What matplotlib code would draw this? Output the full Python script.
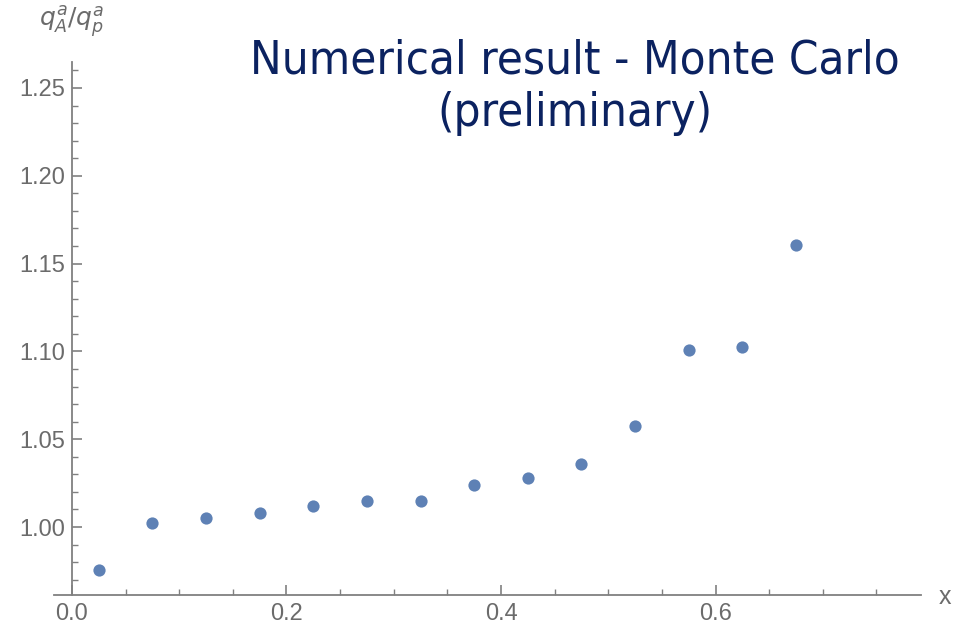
import matplotlib
matplotlib.use("Agg")
import matplotlib.pyplot as plt
from matplotlib.ticker import MultipleLocator, FormatStrFormatter

x_vals = [0.025, 0.075, 0.125, 0.175, 0.225, 0.275, 0.325, 0.375, 0.425,
          0.475, 0.525, 0.575, 0.625, 0.675]
ratio_vals = [0.9755, 1.0023, 1.005, 1.008, 1.012, 1.015, 1.015, 1.024, 1.028,
              1.036, 1.0575, 1.101, 1.1025, 1.1606]

x_ticks = [0.0, 0.2, 0.4, 0.6]
y_ticks = [1.00, 1.05, 1.10, 1.15, 1.20, 1.25]

axis_color = "#808080"
label_color = "#6b6b6b"
point_color = "#5E81B5"
title_color = "#0B2260"

fig = plt.figure(figsize=(9.65, 6.3), dpi=100)
left_px = 54.3
ax = fig.add_axes([left_px/965, 1-595/630, (921-left_px)/965, (595-62)/630])

ax.plot(x_vals, ratio_vals, linestyle="none", marker="o", markersize=8.8,
        color=point_color, markeredgewidth=0)

ax.set_xlim(-0.0165, 0.7916)
ax.set_ylim(0.9613, 1.2648)

for s in ["top", "right"]:
    ax.spines[s].set_visible(False)
ax.spines["left"].set_position(("data", 0))
for s in ["left", "bottom"]:
    ax.spines[s].set_color(axis_color)
    ax.spines[s].set_linewidth(1.3)

ax.xaxis.set_major_locator(MultipleLocator(0.2))
ax.xaxis.set_minor_locator(MultipleLocator(0.05))
ax.yaxis.set_major_locator(MultipleLocator(0.05))
ax.yaxis.set_minor_locator(MultipleLocator(0.01))
ax.set_xticks(x_ticks)
ax.set_yticks(y_ticks)
ax.xaxis.set_major_formatter(FormatStrFormatter("%.1f"))
ax.yaxis.set_major_formatter(FormatStrFormatter("%.2f"))

ax.tick_params(axis="both", which="major", direction="in", length=7, width=1.2,
               color=axis_color, labelcolor=label_color, labelsize=17)
ax.tick_params(axis="both", which="minor", direction="in", length=4, width=1.0,
               color=axis_color)
ax.tick_params(axis="x", which="major", pad=6)
ax.tick_params(axis="y", which="major", pad=5)
for lab in ax.get_xticklabels() + ax.get_yticklabels():
    lab.set_family("Liberation Sans")

fig.text(72/965, 1-22/630, r"$q^a_A/q^a_p$", color=label_color, fontsize=18,
         ha="center", va="center")
fig.text(945/965, 1-597/630, "x", color=label_color, fontsize=18,
         ha="center", va="center", family="Liberation Sans")

fig.text(575/965, 1-87/630, "Numerical result - Monte Carlo\n(preliminary)",
         color=title_color, fontsize=34, ha="center", va="center",
         family="DejaVu Sans", fontstretch="condensed", linespacing=1.22)

fig.savefig("out.png", dpi=100)
